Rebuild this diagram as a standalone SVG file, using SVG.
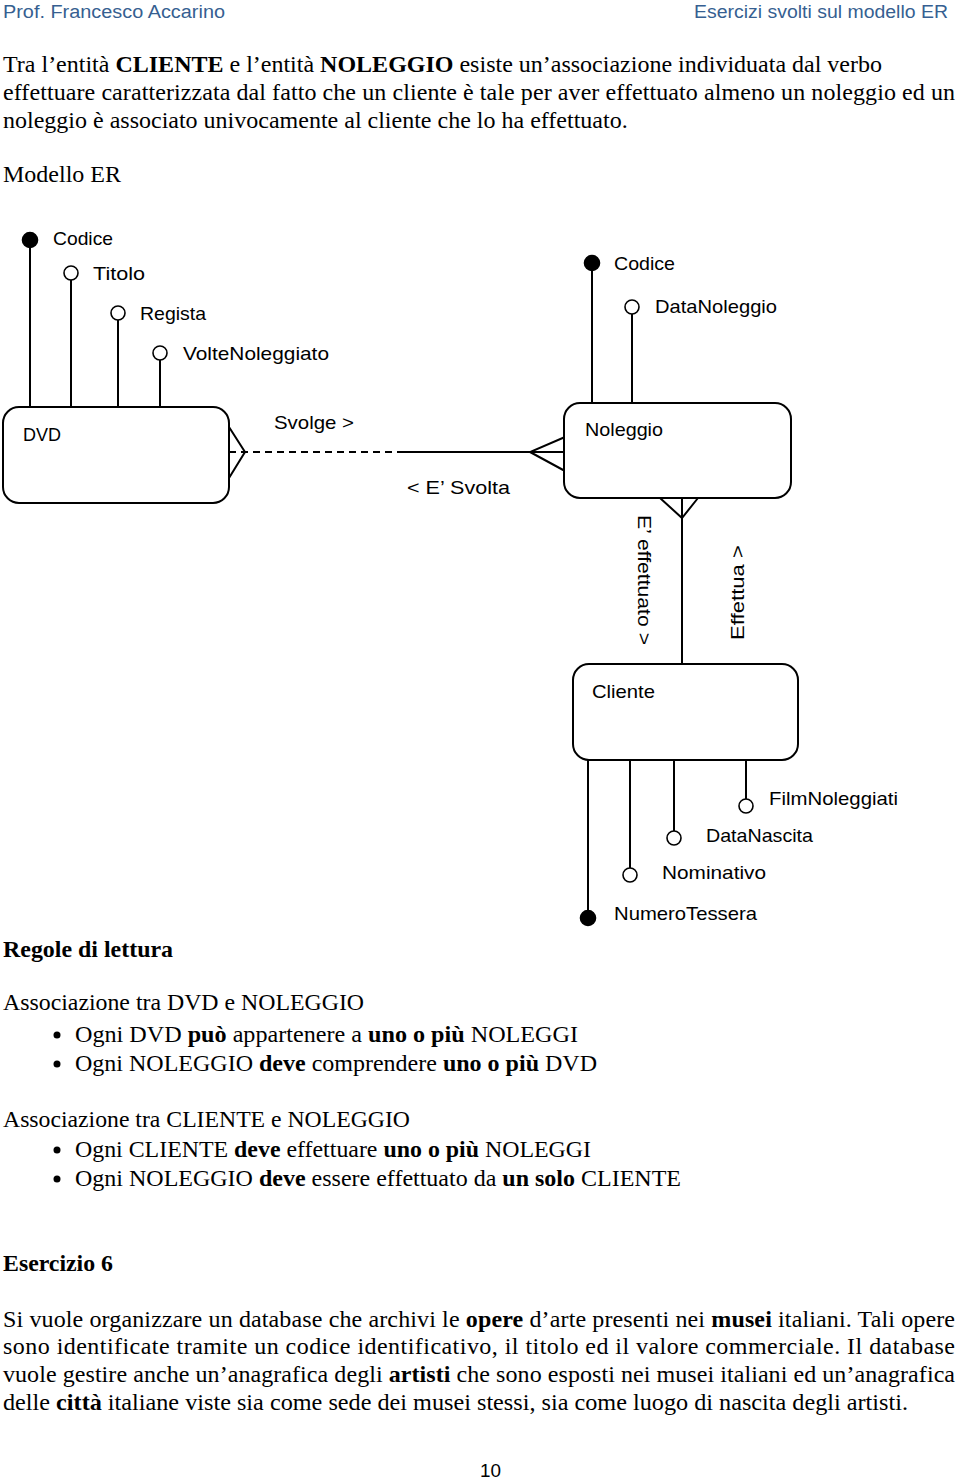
<svg xmlns="http://www.w3.org/2000/svg" width="960" height="1481" viewBox="0 0 960 1481">
<style>
.hdr{font-family:"Liberation Sans",Arial,sans-serif;font-size:18px;fill:#365F91}
.t{font-family:"Liberation Serif","Times New Roman",serif;font-size:24px;fill:#000}
.b{font-weight:bold}
.l{font-family:"Liberation Sans",Arial,sans-serif;font-size:19px;fill:#000}
.box{fill:#fff;stroke:#000;stroke-width:2}
.ln{stroke:#000;stroke-width:2;fill:none}
.oc{fill:#fff;stroke:#000;stroke-width:1.6}
.fc{fill:#000;stroke:#000;stroke-width:1.6}
</style>
<rect width="960" height="1481" fill="#fff"/>
<text class="hdr" x="3" y="18" textLength="222" lengthAdjust="spacingAndGlyphs">Prof. Francesco Accarino</text>
<text class="hdr" x="694" y="18" textLength="254" lengthAdjust="spacingAndGlyphs">Esercizi svolti sul modello ER</text>

<text class="t" x="3" y="72">Tra l’entità <tspan class="b">CLIENTE</tspan> e l’entità <tspan class="b">NOLEGGIO</tspan> esiste un’associazione individuata dal verbo</text>
<text class="t" x="3" y="100" textLength="952" lengthAdjust="spacing">effettuare caratterizzata dal fatto che un cliente è tale per aver effettuato almeno un noleggio ed un</text>
<text class="t" x="3" y="128">noleggio è associato univocamente al cliente che lo ha effettuato.</text>
<text class="t" x="3" y="182">Modello ER</text>

<g id="connectors">
  <!-- DVD attributes -->
  <line class="ln" x1="30" y1="240" x2="30" y2="407"/>
  <line class="ln" x1="71" y1="280" x2="71" y2="407"/>
  <line class="ln" x1="118" y1="320" x2="118" y2="407"/>
  <line class="ln" x1="160" y1="360" x2="160" y2="407"/>
  <!-- Noleggio attributes -->
  <line class="ln" x1="592" y1="263" x2="592" y2="403"/>
  <line class="ln" x1="632" y1="314" x2="632" y2="403"/>
  <!-- Cliente attributes -->
  <line class="ln" x1="588" y1="760" x2="588" y2="918"/>
  <line class="ln" x1="630" y1="760" x2="630" y2="868"/>
  <line class="ln" x1="674" y1="760" x2="674" y2="831"/>
  <line class="ln" x1="746" y1="760" x2="746" y2="799"/>
  <!-- DVD - Noleggio -->
  <polyline class="ln" points="229,427 245,452 229,478"/>
  <line class="ln" x1="229" y1="452" x2="395" y2="452" stroke-dasharray="7,5"/>
  <line class="ln" x1="397" y1="452" x2="565" y2="452"/>
  <polyline class="ln" points="565,437 530,452 565,471"/>
  <!-- Noleggio - Cliente -->
  <polyline class="ln" points="660,498 682,518 698,498"/>
  <line class="ln" x1="682" y1="498" x2="682" y2="664"/>
</g>

<g id="dvd">
  <rect class="box" x="3" y="407" width="226" height="96" rx="16"/>
  <text class="l" x="23" y="441" textLength="38" lengthAdjust="spacingAndGlyphs">DVD</text>
  <circle class="fc" cx="30" cy="240" r="7.5"/>
  <text class="l" x="53" y="245" textLength="60" lengthAdjust="spacingAndGlyphs">Codice</text>
  <circle class="oc" cx="71" cy="273" r="7"/>
  <text class="l" x="93" y="280" textLength="52" lengthAdjust="spacingAndGlyphs">Titolo</text>
  <circle class="oc" cx="118" cy="313" r="7"/>
  <text class="l" x="140" y="320" textLength="66" lengthAdjust="spacingAndGlyphs">Regista</text>
  <circle class="oc" cx="160" cy="353" r="7"/>
  <text class="l" x="183" y="360" textLength="146" lengthAdjust="spacingAndGlyphs">VolteNoleggiato</text>
</g>

<g id="noleggio">
  <rect class="box" x="564" y="403" width="227" height="95" rx="16"/>
  <text class="l" x="585" y="436" textLength="78" lengthAdjust="spacingAndGlyphs">Noleggio</text>
  <circle class="fc" cx="592" cy="263" r="7.5"/>
  <text class="l" x="614" y="270" textLength="61" lengthAdjust="spacingAndGlyphs">Codice</text>
  <circle class="oc" cx="632" cy="307" r="7"/>
  <text class="l" x="655" y="313" textLength="122" lengthAdjust="spacingAndGlyphs">DataNoleggio</text>
</g>

<g id="cliente">
  <rect class="box" x="573" y="664" width="225" height="96" rx="16"/>
  <text class="l" x="592" y="698" textLength="63" lengthAdjust="spacingAndGlyphs">Cliente</text>
  <circle class="oc" cx="746" cy="806" r="7"/>
  <text class="l" x="769" y="805" textLength="129" lengthAdjust="spacingAndGlyphs">FilmNoleggiati</text>
  <circle class="oc" cx="674" cy="838" r="7"/>
  <text class="l" x="706" y="842" textLength="107" lengthAdjust="spacingAndGlyphs">DataNascita</text>
  <circle class="oc" cx="630" cy="875" r="7"/>
  <text class="l" x="662" y="879" textLength="104" lengthAdjust="spacingAndGlyphs">Nominativo</text>
  <circle class="fc" cx="588" cy="918" r="7.5"/>
  <text class="l" x="614" y="920" textLength="143" lengthAdjust="spacingAndGlyphs">NumeroTessera</text>
</g>

<g id="labels">
  <text class="l" x="274" y="429" textLength="80" lengthAdjust="spacingAndGlyphs">Svolge  &gt;</text>
  <text class="l" x="407" y="494" textLength="103" lengthAdjust="spacingAndGlyphs">&lt;   E’ Svolta</text>
  <text class="l" transform="translate(638,515) rotate(90)" textLength="130" lengthAdjust="spacingAndGlyphs">E’ effettuato &gt;</text>
  <text class="l" transform="translate(744,640) rotate(-90)" textLength="95" lengthAdjust="spacingAndGlyphs">Effettua  &gt;</text>
</g>

<text class="t b" x="3" y="957" textLength="170" lengthAdjust="spacingAndGlyphs">Regole di lettura</text>
<text class="t" x="3" y="1010" textLength="361" lengthAdjust="spacingAndGlyphs">Associazione tra DVD e NOLEGGIO</text>
<circle cx="57" cy="1035" r="3.5" fill="#000"/>
<text class="t" x="75" y="1042" textLength="503" lengthAdjust="spacingAndGlyphs">Ogni DVD <tspan class="b">può</tspan> appartenere a <tspan class="b">uno o più</tspan> NOLEGGI</text>
<circle cx="57" cy="1064" r="3.5" fill="#000"/>
<text class="t" x="75" y="1071" textLength="522" lengthAdjust="spacingAndGlyphs">Ogni NOLEGGIO <tspan class="b">deve</tspan> comprendere <tspan class="b">uno o più</tspan> DVD</text>
<text class="t" x="3" y="1127" textLength="407" lengthAdjust="spacingAndGlyphs">Associazione tra CLIENTE e NOLEGGIO</text>
<circle cx="57" cy="1150" r="3.5" fill="#000"/>
<text class="t" x="75" y="1157" textLength="516" lengthAdjust="spacingAndGlyphs">Ogni CLIENTE <tspan class="b">deve</tspan> effettuare <tspan class="b">uno o più</tspan> NOLEGGI</text>
<circle cx="57" cy="1179" r="3.5" fill="#000"/>
<text class="t" x="75" y="1186" textLength="606" lengthAdjust="spacingAndGlyphs">Ogni NOLEGGIO <tspan class="b">deve</tspan> essere effettuato da <tspan class="b">un solo</tspan> CLIENTE</text>

<text class="t b" x="3" y="1271" textLength="110" lengthAdjust="spacingAndGlyphs">Esercizio 6</text>
<text class="t" x="3" y="1327" textLength="952" lengthAdjust="spacing">Si vuole organizzare un database che archivi le <tspan class="b">opere</tspan> d’arte presenti nei <tspan class="b">musei</tspan> italiani. Tali opere</text>
<text class="t" x="3" y="1354" textLength="952" lengthAdjust="spacing">sono identificate tramite un codice identificativo, il titolo ed il valore commerciale. Il database</text>
<text class="t" x="3" y="1382" textLength="952" lengthAdjust="spacing">vuole gestire anche un’anagrafica degli <tspan class="b">artisti</tspan> che sono esposti nei musei italiani ed un’anagrafica</text>
<text class="t" x="3" y="1410" textLength="905" lengthAdjust="spacingAndGlyphs">delle <tspan class="b">città</tspan> italiane viste sia come sede dei musei stessi, sia come luogo di nascita degli artisti.</text>

<text class="l" x="480" y="1477" textLength="21" lengthAdjust="spacingAndGlyphs">10</text>
</svg>
